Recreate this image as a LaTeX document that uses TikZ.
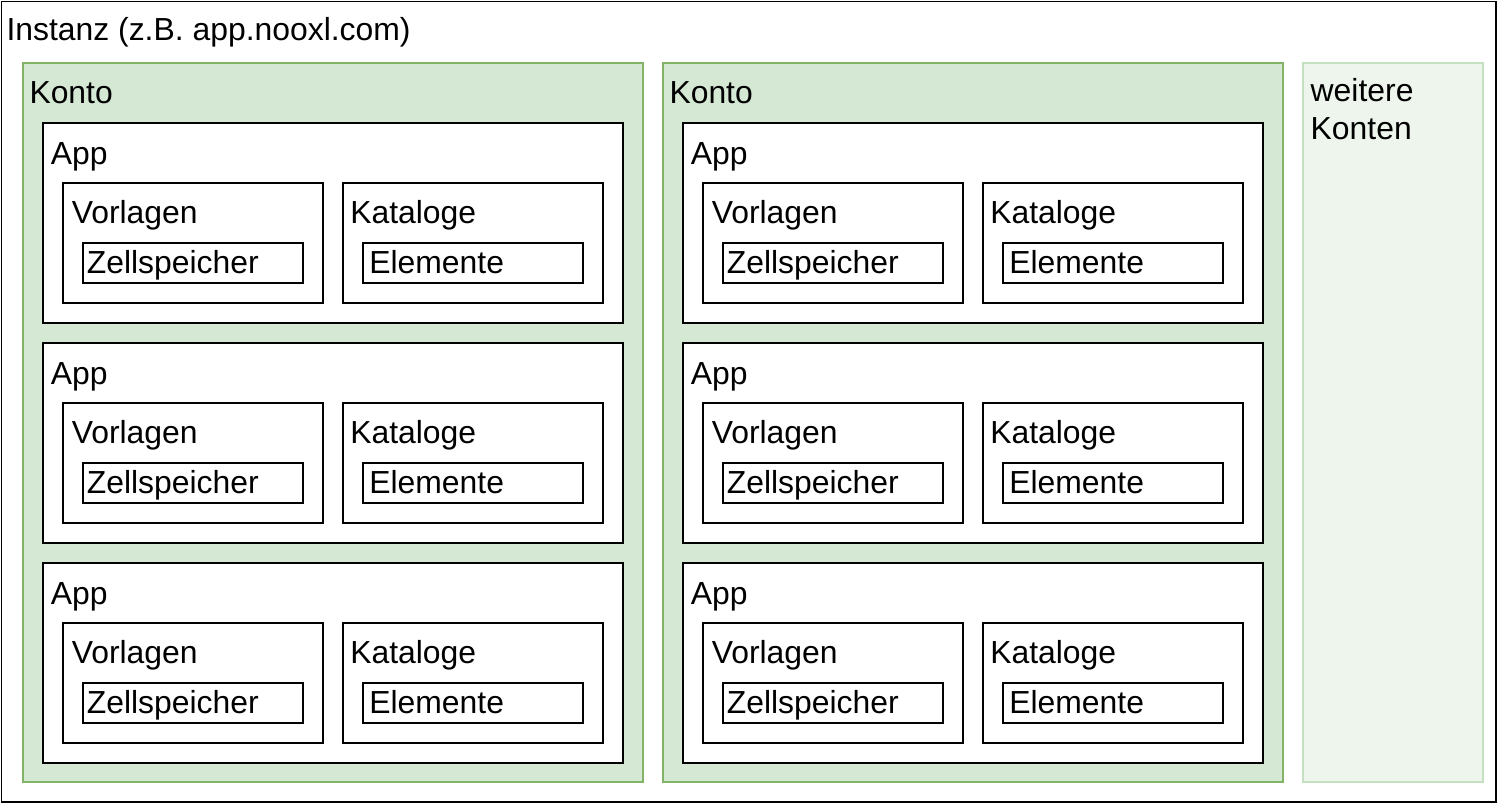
\documentclass[tikz,border=0pt]{standalone}
\usepackage{fontspec}
\setmainfont{Liberation Sans}
\usepackage{xcolor}
\usepackage{tikz}
\usetikzlibrary{positioning}
\definecolor{kontoFill}{HTML}{D5E8D4}
\definecolor{kontoLine}{HTML}{82B366}
\definecolor{restFill}{HTML}{EDF5EC}
\definecolor{restLine}{HTML}{C5E0C0}
\def\lw{1.1pt}
\def\fs{18.15}
\newcommand{\appbox}[3]{%
% #1 = name, #2 = x, #3 = y (top left corner in px)
\node[appframe] (#1) at (#2,#3) {};
\node[lbl] (#1t) at ({#2+7.5},{#3+41.5}) {App};

% Vorlagen with Zellspeicher
\node[subframe] (#1v) at ({#2+20},{#3+60}) {};
\node[lbl] (#1vt) at ({#2+28.5},{#3+100.4}) {Vorlagen};
\node[cellframe] (#1z) at ({#2+40},{#3+120}) {};
\node[lbl] (#1zt) at ({#2+43.5},{#3+150.4}) {Zellspeicher};

% Kataloge with Elemente
\node[subframe] (#1k) at ({#2+300},{#3+60}) {};
\node[lbl] (#1kt) at ({#2+307},{#3+100.4}) {Kataloge};
\node[cellframe] (#1e) at ({#2+320},{#3+120}) {};
\node[lbl] (#1et) at ({#2+326},{#3+150.4}) {Elemente};
}

\begin{document}
\begin{tikzpicture}[
    x=0.02cm, y=-0.02cm,
    every node/.style={inner sep=0pt, outer sep=0pt},
    lbl/.style={anchor=base west, font=\fontsize{\fs}{22}\selectfont},
    frame/.style={draw, line width=\lw, anchor=north west},
    instframe/.style={frame, minimum width=29.9cm, minimum height=16.02cm},
    kontoframe/.style={frame, draw=kontoLine, fill=kontoFill,
        minimum width=12.388cm, minimum height=14.368cm},
    restframe/.style={frame, draw=restLine, fill=restFill,
        minimum width=3.6cm, minimum height=14.368cm},
    appframe/.style={frame, fill=white, minimum width=11.588cm, minimum height=3.988cm},
    subframe/.style={frame, minimum width=5.188cm, minimum height=2.388cm},
    cellframe/.style={frame, minimum width=4.388cm, minimum height=0.788cm}
]
\useasboundingbox (0,0) rectangle (1499,804);

\node[instframe] (inst) at (1.5,1.5) {};
\node[lbl] (instt) at (6.5,41) {Instanz (z.B. app.nooxl.com)};

% first Konto
\node[kontoframe] (k1) at (23.3,63.3) {};
\node[lbl] (k1t) at (29.5,103.5) {Konto};
\appbox{a11}{43.3}{123.3}
\appbox{a12}{43.3}{343.3}
\appbox{a13}{43.3}{563.3}

% second Konto
\node[kontoframe] (k2) at (663.3,63.3) {};
\node[lbl] (k2t) at (669.5,103.5) {Konto};
\appbox{a21}{683.3}{123.3}
\appbox{a22}{683.3}{343.3}
\appbox{a23}{683.3}{563.3}

% further accounts
\node[restframe] (rest) at (1302.7,63.3) {};
\node[lbl] (restt1) at (1310.7,101.5) {weitere};
\node[lbl] (restt2) at (1310.7,139.5) {Konten};
\end{tikzpicture}
\end{document}
